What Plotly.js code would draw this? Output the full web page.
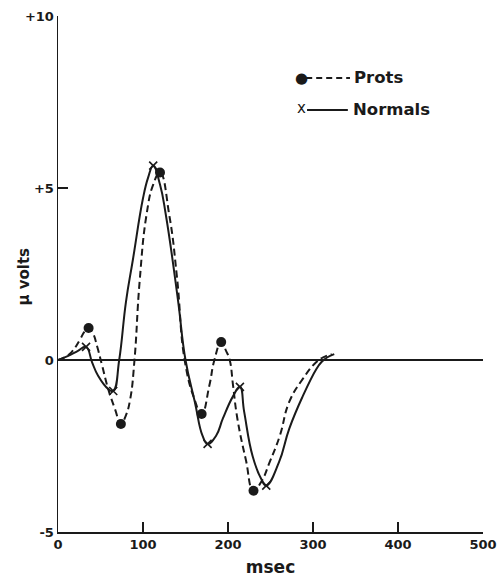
<!DOCTYPE html>
<html>
<head>
<meta charset="utf-8">
<script src="https://cdn.plot.ly/plotly-3.0.1.min.js"></script>
<style>
  html, body { margin: 0; padding: 0; background: #fff; }
  #chart { width: 498px; height: 579px; }
</style>
</head>
<body>
<div id="chart"></div>
<script>
// Averaged evoked potentials: time (msec) vs amplitude (µV)
const protsMs = [0, 8, 16, 26, 31, 36, 41, 46, 52, 59, 67, 74, 80, 85, 90, 96, 104, 112, 120, 131, 140, 149,
                 160, 169, 178, 184, 192, 198, 202, 206, 211, 221, 230, 240, 249, 261, 272, 288, 304, 314, 322];
const protsUv = [0, 0.08, 0.23, 0.6, 0.82, 0.93, 0.78, 0.4, -0.17, -0.84, -1.42, -1.86, -1.6, -1.13, 0, 2.27, 4.2, 5.1, 5.45, 4.2, 2.4, 0,
                 -1.1, -1.57, -0.75, 0, 0.52, 0.25, 0, -0.75, -1.7, -2.9, -3.8, -3.5, -2.97, -2.2, -1.22, -0.55, -0.06, 0.1, 0.17];
const protsPeakIdx = [5, 11, 18, 23, 26, 32];

const normalsMs = [0, 12, 23, 33, 40, 47, 59, 65, 72, 80, 88, 100, 106, 112, 120, 127, 141, 150, 161, 170,
                   176, 186, 194, 206, 214, 219, 229, 239, 245, 260, 272, 288, 304, 310, 317, 325];
const normalsUv = [0, 0.12, 0.26, 0.38, -0.06, -0.45, -0.84, -0.9, 0, 1.7, 2.9, 4.7, 5.3, 5.65, 5.1, 4.2, 1.77, 0, -1.22, -2.2,
                   -2.44, -2.2, -1.7, -1.05, -0.78, -1.5, -2.8, -3.45, -3.65, -2.97, -2.0, -1.05, -0.26, -0.06, 0.08, 0.17];
const normalsPeakIdx = [3, 7, 13, 20, 24, 28];

const xTickVals = [0, 100, 200, 300, 400, 500];
const xTickText = ['0', '100', '200', '300', '400', '500'];
const yTickVals = [-5, 0, 5, 10];
const yTickText = ['-5', '0', '+5', '+10'];

const ink = '#1a1a1a';
const font = 'DejaVu Sans, sans-serif';

const pick = (arr, idx) => idx.map(i => arr[i]);
const bold = arr => arr.map(t => '<b>' + t + '</b>');

const traces = [
  {
    x: protsMs, y: protsUv, mode: 'lines', type: 'scatter',
    line: { color: ink, width: 2, dash: '7px,4px', shape: 'spline', smoothing: 1.3 },
    hoverinfo: 'skip'
  },
  {
    x: normalsMs, y: normalsUv, mode: 'lines', type: 'scatter',
    line: { color: ink, width: 2, shape: 'spline', smoothing: 1.3 },
    hoverinfo: 'skip'
  },
  {
    x: pick(protsMs, protsPeakIdx), y: pick(protsUv, protsPeakIdx), mode: 'markers', type: 'scatter',
    marker: { symbol: 'circle', size: 10, color: ink }, cliponaxis: false
  },
  {
    x: pick(normalsMs, normalsPeakIdx), y: pick(normalsUv, normalsPeakIdx), mode: 'markers', type: 'scatter',
    marker: { symbol: 'x-thin-open', size: 8, color: ink, line: { color: ink, width: 1.6 } }, cliponaxis: false
  }
];

const layout = {
  width: 498, height: 579,
  margin: { l: 58, r: 15, t: 16, b: 47 },
  paper_bgcolor: '#fff', plot_bgcolor: '#fff',
  showlegend: false,
  font: { family: font, color: ink, size: 13 },
  xaxis: {
    range: [0, 500], tickvals: xTickVals, ticktext: bold(xTickText),
    ticks: 'inside', ticklen: 10, tickwidth: 1.5, tickcolor: ink,
    showline: true, linecolor: ink, linewidth: 1.5,
    showgrid: false, zeroline: false,
    tickfont: { family: font, size: 13, color: ink },
    title: { text: '<b>msec</b>', font: { family: font, size: 17, color: ink }, standoff: 10 }
  },
  yaxis: {
    range: [-5, 10], tickvals: yTickVals, ticktext: bold(yTickText),
    ticks: 'inside', ticklen: 10, tickwidth: 1.5, tickcolor: ink,
    showline: true, linecolor: ink, linewidth: 1.5,
    showgrid: false,
    zeroline: true, zerolinecolor: ink, zerolinewidth: 1.5,
    tickfont: { family: font, size: 13, color: ink }
  },
  shapes: [
    { type: 'line', xref: 'paper', yref: 'paper', x0: 0.584, x1: 0.687, y0: 0.88, y1: 0.88,
      line: { color: ink, width: 2, dash: '6px,4px' } },
    { type: 'line', xref: 'paper', yref: 'paper', x0: 0.586, x1: 0.682, y0: 0.818, y1: 0.818,
      line: { color: ink, width: 2 } }
  ],
  annotations: [
    // y-axis label, set close to the tick labels
    { xref: 'paper', yref: 'paper', x: -0.08, y: 0.495, text: '<b>μ volts</b>', showarrow: false, textangle: -90,
      xanchor: 'center', yanchor: 'middle', font: { family: font, size: 15, color: ink } },
    // legend
    { xref: 'paper', yref: 'paper', x: 0.574, y: 0.88, text: '●', showarrow: false,
      xanchor: 'center', yanchor: 'middle', font: { family: font, size: 15, color: ink } },
    { xref: 'paper', yref: 'paper', x: 0.691, y: 0.88, text: '<b>Prots</b>', showarrow: false,
      xanchor: 'left', yanchor: 'middle', font: { family: font, size: 16.5, color: ink } },
    { xref: 'paper', yref: 'paper', x: 0.574, y: 0.822, text: 'x', showarrow: false,
      xanchor: 'center', yanchor: 'middle', font: { family: font, size: 15, color: ink } },
    { xref: 'paper', yref: 'paper', x: 0.689, y: 0.818, text: '<b>Normals</b>', showarrow: false,
      xanchor: 'left', yanchor: 'middle', font: { family: font, size: 16.5, color: ink } }
  ]
};

Plotly.newPlot('chart', traces, layout, { staticPlot: true, displayModeBar: false });
</script>
</body>
</html>
